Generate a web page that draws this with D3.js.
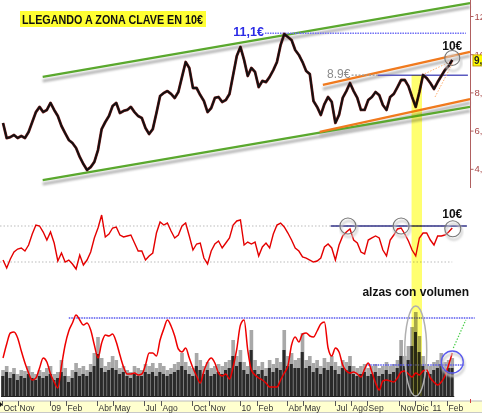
<!DOCTYPE html>
<html><head><meta charset="utf-8">
<script src="https://cdn.jsdelivr.net/npm/d3@7"></script>
<style>
body{margin:0;background:#fff;}
svg{display:block;font-family:Arial,"Liberation Sans",sans-serif;}
</style>
</head><body>
<svg id="c" width="482" height="420"></svg>
<script>
// ---------- DATA (weekly readings, first week ending 2008-10-03) ----------
const firstWeek = "2008-10-03";
const price = [
6.40,5.61,5.66,5.77,5.61,5.72,5.61,5.93,6.45,6.97,
7.24,6.97,7.08,7.45,7.08,6.76,6.24,5.87,5.51,5.35,
5.09,4.62,4.25,3.94,4.09,4.36,4.98,6.08,6.45,6.76,
7.29,7.45,6.92,7.03,7.08,7.24,6.97,6.76,6.66,6.14,
5.82,6.08,6.92,7.81,7.97,8.07,7.92,7.71,8.02,8.81,
9.59,9.28,8.23,8.23,7.86,7.55,6.97,7.18,7.71,7.76,
7.50,7.60,7.92,8.91,9.91,10.38,9.70,8.86,9.28,9.07,
8.28,8.60,8.54,8.81,9.17,9.59,10.48,11.06,10.90,10.74,
10.22,9.96,9.59,9.12,8.96,7.55,7.24,6.82,7.39,7.76,
7.50,6.40,6.82,7.71,8.07,8.49,8.07,7.71,7.08,7.08,
7.60,7.76,8.02,7.86,7.34,7.08,7.76,7.92,8.28,8.65,
8.65,8.33,7.76,7.24,8.02,8.91,8.75,8.49,8.18,8.54,
8.86,9.17,9.38,9.70];
const oscillator = [
32.2,23.3,33.3,41.1,44.4,45.6,42.2,48.9,61.1,71.1,
70,63.3,54.4,63.3,51.1,31.1,40,30,32.2,27.8,
22.2,37.8,26.7,32.2,41.1,56.7,67.8,82.2,57.8,61.1,
67.8,68.9,60,57.8,58.9,60,51.1,42.2,42.2,32.2,
36.7,40,62.2,74.4,71.1,73.3,64.4,56.7,60,70,
73.3,58.9,43.3,50,51.1,34.4,27.8,42.2,50,53.3,
45.6,51.1,56.7,71.1,75.6,76.7,48.9,52.2,50,52.2,
36.7,46.7,51.1,45.6,61.1,71.1,73.3,68.9,62.2,54.4,
45.6,42.2,35.6,34.4,32.2,30,31.1,34.4,46.7,50,
45.6,32.2,48.9,58.9,63.3,66.7,54.4,51.1,41.1,38.9,
54.4,56.7,58.9,56.7,43.3,36.7,54.4,60,66.7,67.8,
61.1,53.3,43.3,36.7,56.7,62.2,62.2,54.4,48.9,58.9,
58.9,60,63.3,67.8];
const volumeAvg = [
38,52,63,64,58,45,33,23,16,18,
28,38,34,22,14,8,30,51,65,73,
81,76,71,73,66,51,38,53,61,60,
62,54,41,29,22,22,23,21,22,31,
43,43,40,56,67,76,70,60,47,44,
48,38,28,20,13,25,34,38,33,23,
20,22,17,29,47,71,76,46,26,21,
18,16,13,9,9,9,16,23,30,51,
59,54,62,63,60,59,65,72,74,48,
40,48,44,31,25,23,24,22,19,27,
33,24,13,6,15,16,15,14,18,24,
25,22,19,23,21,25,26,18,14,11,
14,20,31,43];
const volumePeak = [
26,30,24,28,22,26,25,30,24,22,
26,24,28,30,22,24,36,28,20,26,
33,28,30,26,32,43,59,38,30,34,
40,36,28,30,26,24,30,28,26,32,
30,33,28,33,30,26,28,32,34,43,
34,30,28,43,36,30,34,28,30,32,
30,34,36,56,40,46,34,30,66,36,
30,34,28,36,32,38,34,66,40,43,
36,38,63,36,40,33,36,30,38,34,
40,34,30,36,34,40,30,28,30,32,
28,30,32,28,30,34,30,32,36,56,
40,50,69,84,60,40,32,30,34,36,
43,34,36,38];
const volumeBase = [
20,24,18,22,16,20,18,22,18,16,
20,18,20,22,16,18,24,20,14,18,
24,20,22,20,24,30,42,28,24,26,
28,26,22,24,20,18,22,20,20,24,
22,24,20,24,22,20,22,24,26,30,
26,22,20,30,26,22,26,20,22,24,
22,26,28,40,30,34,26,22,46,26,
22,26,20,28,24,28,26,46,30,32,
28,28,44,28,30,24,28,22,28,26,
30,26,22,28,26,30,22,20,22,24,
20,22,24,20,22,26,22,24,28,40,
30,36,50,64,44,30,24,22,26,28,
32,26,28,28];
const priceTicks = [4,6,8,10,12];
const monthTickDates = ["2008-10-01","2008-11-01","2009-01-01","2009-02-01","2009-04-01","2009-05-01","2009-07-01","2009-08-01","2009-10-01","2009-11-01","2010-01-01","2010-02-01","2010-04-01","2010-05-01","2010-07-01","2010-08-01","2010-09-01","2010-11-01","2010-12-01","2011-01-01","2011-02-01"];
const monthTickLabels = ["Oct","Nov","09","Feb","Abr","May","Jul","Ago","Oct","Nov","10","Feb","Abr","May","Jul","Ago","Sep","Nov","Dic","11","Feb"];
const title = "LLEGANDO A ZONA CLAVE EN 10€";

// ---------- SCALES ----------
const P = d3.timeParse("%Y-%m-%d");
const t0 = P(firstWeek);
const dates = price.map((_, i) => d3.timeDay.offset(t0, 7 * i));
const x = d3.scaleTime().domain([new Date(2008, 8, 27, 4), new Date(2011, 3, 9)]).range([0, 482]);
const yP = d3.scaleLinear().domain([4, 12]).range([168.8, 16]);
const yO = d3.scaleLinear().domain([30, 70]).range([262, 226]);
const yV = d3.scaleLinear().domain([0, 100]).range([396, 296]);
const last = dates[dates.length - 1];

const svg = d3.select("#c");
const defs = svg.append("defs");
defs.append("filter").attr("id", "blur").attr("x", "-10%").attr("y", "-50%").attr("width", "120%").attr("height", "200%")
  .append("feGaussianBlur").attr("stdDeviation", 1.3);

// ---------- TITLE ----------
svg.append("rect").attr("x", 20).attr("y", 11).attr("width", 186).attr("height", 16).attr("fill", "#ffff33");
svg.append("text").attr("x", 22).attr("y", 23.5).attr("font-size", 12.5).attr("font-weight", "bold")
  .attr("textLength", 181).attr("lengthAdjust", "spacingAndGlyphs").attr("fill", "#111").text(title);

// ---------- CHANNEL LINES ----------
const channels = [
  {a: ["2008-12-18", 8.81], b: ["2011-03-17", 12.68], c: "#5aa82e"},
  {a: ["2008-12-18", 3.41], b: ["2011-03-17", 7.24], c: "#5aa82e"},
  {a: ["2010-06-08", 8.39], b: ["2011-03-17", 10.12], c: "#f07a1e"},
  {a: ["2010-06-02", 5.93], b: ["2011-03-17", 7.65], c: "#f07a1e"}
];
channels.forEach(ch => {
  svg.append("line").attr("x1", x(P(ch.a[0]))).attr("y1", yP(ch.a[1]) + 4).attr("x2", x(P(ch.b[0]))).attr("y2", yP(ch.b[1]) + 4)
    .attr("stroke", "#b8b8b8").attr("stroke-width", 3).attr("filter", "url(#blur)");
});
channels.forEach(ch => {
  svg.append("line").attr("x1", x(P(ch.a[0]))).attr("y1", yP(ch.a[1])).attr("x2", x(P(ch.b[0]))).attr("y2", yP(ch.b[1]))
    .attr("stroke", ch.c).attr("stroke-width", 2.3);
});

// level lines
svg.append("line").attr("x1", x(P("2010-02-17"))).attr("x2", x(P("2011-03-09"))).attr("y1", yP(11.1)).attr("y2", yP(11.1))
  .attr("stroke", "#6f6ff5").attr("stroke-width", 1.5).attr("stroke-dasharray", "1.5,1");
svg.append("line").attr("x1", x(P("2010-08-02"))).attr("x2", x(P("2010-09-21"))).attr("y1", yP(8.9)).attr("y2", yP(8.9))
  .attr("stroke", "#999").attr("stroke-width", 1.2).attr("stroke-dasharray", "2,1.5");
svg.append("line").attr("x1", x(P("2010-09-21"))).attr("x2", x(P("2011-03-13"))).attr("y1", yP(8.9)).attr("y2", yP(8.9))
  .attr("stroke", "#5a5ac0").attr("stroke-width", 1.4);

// converging dotted orange
[[["2010-12-15", 8.91], ["2011-02-06", 9.59]], [["2011-01-09", 7.76], ["2011-02-12", 9.54]]].forEach(s => {
  svg.append("line").attr("x1", x(P(s[0][0]))).attr("y1", yP(s[0][1])).attr("x2", x(P(s[1][0]))).attr("y2", yP(s[1][1]))
    .attr("stroke", "#ffb070").attr("stroke-width", 1).attr("stroke-dasharray", "1.5,1.5");
});

// price
const priceData = dates.map((d, i) => [d, price[i]]);
svg.append("path").datum(priceData)
  .attr("d", d3.line().x(d => x(d[0])).y(d => yP(d[1])))
  .attr("fill", "none").attr("stroke", "#7a2020").attr("stroke-width", 2.8).attr("stroke-linejoin", "round");
svg.append("path").datum(priceData)
  .attr("d", d3.line().x(d => x(d[0])).y(d => yP(d[1])))
  .attr("fill", "none").attr("stroke", "#111").attr("stroke-width", 1.8).attr("stroke-linejoin", "round");

// circle at last price
svg.append("circle").attr("cx", x(last) + 1).attr("cy", yP(price[price.length - 1]) + 3).attr("r", 8)
  .attr("fill", "none").attr("stroke", "#ccc").attr("stroke-width", 2).attr("filter", "url(#blur)");
svg.append("circle").attr("cx", x(last)).attr("cy", yP(price[price.length - 1]) - 2).attr("r", 7.5)
  .attr("fill", "none").attr("stroke", "#777").attr("stroke-width", 1.1);

// right axis
svg.append("line").attr("x1", 470.5).attr("x2", 470.5).attr("y1", 0).attr("y2", 188).attr("stroke", "#b06060");
const ax = svg.append("g").attr("transform", "translate(470.5,0)")
  .call(d3.axisRight(yP).tickValues(priceTicks).tickSize(3).tickPadding(1).tickFormat(d => d3.format(".1f")(d).replace(".", ",")));
ax.select(".domain").remove();
ax.selectAll("line").attr("stroke", "#b06060");
ax.selectAll("text").attr("fill", "#a84848").attr("font-size", 9.5).attr("font-family", "Arial, Liberation Sans, sans-serif");

// last price tag
const lp = price[price.length - 1];
svg.append("rect").attr("x", 473).attr("y", yP(lp) - 5).attr("width", 12).attr("height", 11).attr("fill", "#ffff00").attr("stroke", "#c8a000");
svg.append("text").attr("x", 474).attr("y", yP(lp) + 4).attr("font-size", 10).attr("font-weight", "bold").attr("fill", "#222")
  .text(d3.format(".2f")(lp).replace(".", ","));

// ---------- OSCILLATOR ----------
[70, 30].forEach(v => {
  svg.append("line").attr("x1", 0).attr("x2", x(last)).attr("y1", yO(v)).attr("y2", yO(v))
    .attr("stroke", "#bbb").attr("stroke-width", 1).attr("stroke-dasharray", "1.5,2");
});
svg.append("line").attr("x1", x(P("2010-06-23"))).attr("x2", x(P("2011-03-11"))).attr("y1", yO(70)).attr("y2", yO(70))
  .attr("stroke", "#333388").attr("stroke-width", 1.3);
svg.append("path").datum(dates.map((d, i) => [d, oscillator[i]]))
  .attr("d", d3.line().x(d => x(d[0])).y(d => yO(d[1])))
  .attr("fill", "none").attr("stroke", "#e40000").attr("stroke-width", 1.4);
[["2010-07-26", 70], ["2010-11-05", 70], ["2011-02-12", 67]].forEach(c => {
  svg.append("circle").attr("cx", x(P(c[0])) + 1).attr("cy", yO(c[1]) + 3).attr("r", 8)
    .attr("fill", "none").attr("stroke", "#ccc").attr("stroke-width", 2).attr("filter", "url(#blur)");
  svg.append("circle").attr("cx", x(P(c[0]))).attr("cy", yO(c[1])).attr("r", 8)
    .attr("fill", "none").attr("stroke", "#777").attr("stroke-width", 1.1);
});

// ---------- VOLUME ----------
const bw = x(d3.timeDay.offset(t0, 7)) - x(t0);
svg.append("g").selectAll("rect").data(dates).join("rect")
  .attr("x", (d, i) => x(d) - bw / 2).attr("width", bw)
  .attr("y", (d, i) => yV(volumePeak[i])).attr("height", (d, i) => yV(0) - yV(volumePeak[i]))
  .attr("fill", "#a8a8a8");
svg.append("g").selectAll("rect").data(dates).join("rect")
  .attr("x", (d, i) => x(d) - bw / 2).attr("width", bw * 0.85)
  .attr("y", (d, i) => yV(volumeBase[i])).attr("height", (d, i) => yV(0) - yV(volumeBase[i]))
  .attr("fill", "#2a2a2a");
svg.append("line").attr("x1", x(dates[0]) - 2).attr("x2", x(last) + 2).attr("y1", yV(0) + 0.5).attr("y2", yV(0) + 0.5).attr("stroke", "#222");

svg.append("line").attr("x1", x(P("2009-02-06"))).attr("x2", x(P("2011-03-26"))).attr("y1", yV(78)).attr("y2", yV(78))
  .attr("stroke", "#5555ee").attr("stroke-width", 1.5).attr("stroke-dasharray", "1.5,1");
svg.append("line").attr("x1", x(P("2010-09-02"))).attr("x2", x(P("2011-03-07"))).attr("y1", yV(31)).attr("y2", yV(31))
  .attr("stroke", "#5555ee").attr("stroke-width", 1.5).attr("stroke-dasharray", "1.5,1");

svg.append("path").datum(dates.map((d, i) => [d, volumeAvg[i]]))
  .attr("d", d3.line().curve(d3.curveMonotoneX).x(d => x(d[0])).y(d => yV(d[1])))
  .attr("fill", "none").attr("stroke", "#ee0000").attr("stroke-width", 1.5);

svg.append("line").attr("x1", x(P("2011-02-13"))).attr("y1", yV(48)).attr("x2", x(P("2011-03-09"))).attr("y2", yV(76))
  .attr("stroke", "#44cc44").attr("stroke-width", 1.2).attr("stroke-dasharray", "1.5,1.5");
svg.append("circle").attr("cx", x(last) + 1).attr("cy", yV(34) + 3).attr("r", 11)
  .attr("fill", "none").attr("stroke", "#ccc").attr("stroke-width", 2).attr("filter", "url(#blur)");
svg.append("circle").attr("cx", x(last)).attr("cy", yV(34)).attr("r", 11)
  .attr("fill", "none").attr("stroke", "#5a5aee").attr("stroke-width", 1.3);

// ---------- HIGHLIGHT BAND ----------
svg.append("rect").attr("x", x(P("2010-11-25"))).attr("width", x(P("2010-12-15")) - x(P("2010-11-25")))
  .attr("y", yP(8.9)).attr("height", yV(0) - yP(8.9))
  .attr("fill", "#ffff70").style("mix-blend-mode", "multiply");
svg.append("ellipse").attr("cx", x(P("2010-12-03"))).attr("cy", yV(45)).attr("rx", 11).attr("ry", 45)
  .attr("fill", "none").attr("stroke", "#b0b0b0").attr("stroke-width", 1.5);

// ---------- TEXT ANNOTATIONS ----------
svg.append("text").attr("x", x(P("2010-02-17")) - 1).attr("y", yP(11.1) + 3).attr("text-anchor", "end")
  .attr("font-size", 12.5).attr("font-weight", "bold").attr("fill", "#2a2ae6").text("11,1€");
svg.append("text").attr("x", x(P("2010-06-16"))).attr("y", yP(8.9) + 3).attr("font-size", 12).attr("fill", "#8a8a8a").text("8.9€");
svg.append("text").attr("x", x(last)).attr("y", 50).attr("text-anchor", "middle")
  .attr("font-size", 12).attr("font-weight", "bold").attr("fill", "#111").text("10€");
svg.append("text").attr("x", x(last)).attr("y", 218).attr("text-anchor", "middle")
  .attr("font-size", 12).attr("font-weight", "bold").attr("fill", "#111").text("10€");
svg.append("text").attr("x", x(P("2010-12-03"))).attr("y", 296).attr("text-anchor", "middle")
  .attr("font-size", 12).attr("font-weight", "bold").attr("fill", "#111").text("alzas con volumen");

// ---------- TIME AXIS ----------
svg.append("rect").attr("x", 0).attr("y", 401).attr("width", 482).attr("height", 11).attr("fill", "#ffffcf");
svg.append("line").attr("x1", 0).attr("x2", 482).attr("y1", 401).attr("y2", 401).attr("stroke", "#bbb");
svg.append("line").attr("x1", 0).attr("x2", 482).attr("y1", 412.5).attr("y2", 412.5).attr("stroke", "#c8c8c8");
svg.append("path").attr("d", "M0,402L2.5,404.5L0,407Z").attr("fill", "#111");
svg.append("line").attr("x1", 470.5).attr("x2", 470.5).attr("y1", 399).attr("y2", 403).attr("stroke", "#d04040");
const tg = svg.append("g");
monthTickDates.forEach((ds, i) => {
  const tx = Math.round(x(P(ds))) + 0.5;
  tg.append("line").attr("x1", tx).attr("x2", tx).attr("y1", 401).attr("y2", 406).attr("stroke", "#555");
  tg.append("text").attr("x", tx + 1).attr("y", 410.5).attr("font-size", 8.5).attr("fill", "#333").text(monthTickLabels[i]);
});
</script>
</body></html>
